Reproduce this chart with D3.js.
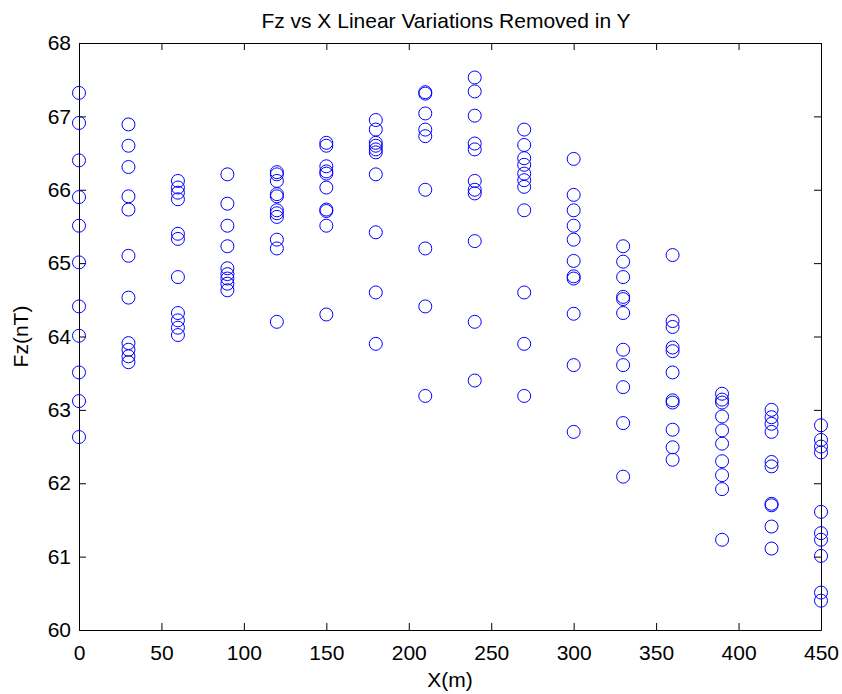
<!DOCTYPE html>
<html>
<head>
<meta charset="utf-8">
<script src="https://cdn.jsdelivr.net/npm/d3@7"></script>
<style>
  body { margin: 0; background: #fff; }
  text { font-family: "Liberation Sans", Arial, sans-serif; fill: #000; }
</style>
</head>
<body>
<div id="chart"></div>
<script>
// x positions (m) and the Fz readings taken at each
const xPositions = [0, 30, 60, 90, 120, 150, 180, 210, 240, 270, 300, 330, 360, 390, 420, 450];
const fzValues = [
  [67.32, 66.91, 66.40, 65.90, 65.51, 65.01, 64.41, 64.01, 63.51, 63.12, 62.63],
  [66.89, 66.60, 66.31, 65.91, 65.73, 65.10, 64.53, 63.91, 63.82, 63.73, 63.65],
  [66.12, 66.03, 65.96, 65.87, 65.40, 65.33, 64.81, 64.32, 64.22, 64.12, 64.02],
  [66.21, 65.81, 65.51, 65.23, 64.93, 64.85, 64.79, 64.72, 64.63],
  [66.24, 66.21, 66.12, 65.94, 65.91, 65.72, 65.68, 65.63, 65.32, 65.20, 64.20],
  [66.64, 66.60, 66.32, 66.25, 66.22, 66.03, 65.73, 65.71, 65.51, 64.30],
  [66.95, 66.82, 66.64, 66.60, 66.55, 66.51, 66.21, 65.42, 64.60, 63.90],
  [67.33, 67.31, 67.04, 66.82, 66.73, 66.00, 65.20, 64.41, 63.19],
  [67.53, 67.34, 67.01, 66.63, 66.55, 66.12, 66.00, 65.95, 65.30, 64.20, 63.40],
  [66.82, 66.61, 66.43, 66.34, 66.22, 66.13, 66.04, 65.72, 64.60, 63.90, 63.19],
  [66.42, 65.93, 65.72, 65.51, 65.32, 65.03, 64.82, 64.79, 64.31, 63.61, 62.70],
  [65.23, 65.02, 64.81, 64.54, 64.51, 64.32, 63.82, 63.61, 63.31, 62.82, 62.09],
  [65.11, 64.21, 64.13, 63.85, 63.80, 63.51, 63.13, 63.10, 62.73, 62.49, 62.32],
  [63.22, 63.14, 63.10, 62.91, 62.72, 62.54, 62.30, 62.11, 61.92, 61.23],
  [63.00, 62.90, 62.81, 62.70, 62.29, 62.23, 61.72, 61.70, 61.41, 61.11],
  [62.79, 62.59, 62.50, 62.42, 61.61, 61.32, 61.23, 61.01, 60.51, 60.40]
];
const xTicks = [0, 50, 100, 150, 200, 250, 300, 350, 400, 450];
const yTicks = [60, 61, 62, 63, 64, 65, 66, 67, 68];

const title = 'Fz vs X Linear Variations Removed in Y';
const xLabel = 'X(m)';
const yLabel = 'Fz(nT)';

const W = 842, H = 694;
const space = { top: 43, right: 21, bottom: 64, left: 79 };
const w = W - space.left - space.right,
  h = H - space.top - space.bottom;
const fontSize = '21px';

// flatten into points
const points = [];
xPositions.forEach((x, i) => fzValues[i].forEach(v => points.push([x, v])));

const svg = d3.select('#chart')
  .append('svg')
  .attr('width', W)
  .attr('height', H);

const g = svg.append('g')
  .attr('transform', `translate(${space.left}, ${space.top})`);

const xScale = d3.scaleLinear().domain([0, 450]).range([0, w]);
const yScale = d3.scaleLinear().domain([60, 68]).range([h, 0]);

// matlab style inward ticks on all four sides
const tickLen = 7;
const xAxis = d3.axisBottom(xScale).tickValues(xTicks).tickSizeInner(-tickLen).tickSizeOuter(0).tickPadding(15);
const yAxis = d3.axisLeft(yScale).tickValues(yTicks).tickSizeInner(-tickLen).tickSizeOuter(0).tickPadding(8);
const xTop = d3.axisTop(xScale).tickValues(xTicks).tickSizeInner(-tickLen).tickSizeOuter(0).tickFormat('');
const yRight = d3.axisRight(yScale).tickValues(yTicks).tickSizeInner(-tickLen).tickSizeOuter(0).tickFormat('');

g.append('g').attr('transform', `translate(0, ${h})`).call(xAxis);
g.append('g').call(yAxis);
g.append('g').call(xTop);
g.append('g').attr('transform', `translate(${w}, 0)`).call(yRight);

g.selectAll('.domain').attr('stroke', '#000').attr('stroke-width', 1);
g.selectAll('.tick line').attr('stroke', '#000');
g.selectAll('.tick text')
  .style('font-size', fontSize)
  .style('font-family', '"Liberation Sans", Arial, sans-serif')
  .attr('fill', '#000');

// points
g.selectAll('.pt')
  .data(points)
  .enter()
  .append('circle')
  .attr('class', 'pt')
  .attr('cx', d => xScale(d[0]))
  .attr('cy', d => yScale(d[1]))
  .attr('r', 6.5)
  .attr('fill', 'none')
  .attr('stroke', '#0000ff')
  .attr('stroke-width', 1);

// texts
svg.append('text')
  .text(title)
  .attr('x', 446)
  .attr('y', 28)
  .attr('text-anchor', 'middle')
  .style('font-size', fontSize);

svg.append('text')
  .text(xLabel)
  .attr('x', space.left + w / 2)
  .attr('y', 687)
  .attr('text-anchor', 'middle')
  .style('font-size', fontSize);

svg.append('text')
  .text(yLabel)
  .attr('transform', `translate(28, ${space.top + h / 2}) rotate(-90)`)
  .attr('text-anchor', 'middle')
  .style('font-size', fontSize);
</script>
</body>
</html>
